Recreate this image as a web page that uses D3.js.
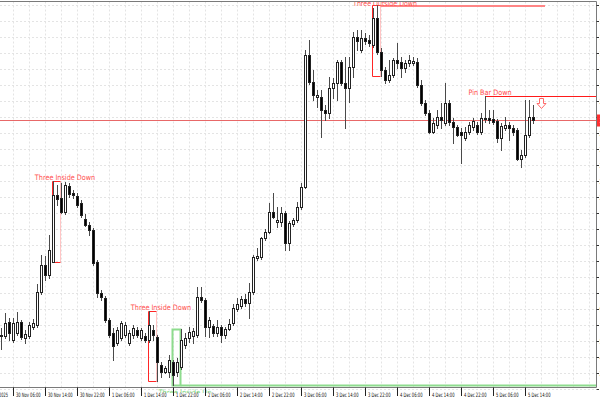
<!DOCTYPE html>
<html><head><meta charset="utf-8">
<script src="https://cdn.jsdelivr.net/npm/d3@7"></script>
<style>html,body{margin:0;padding:0;background:#fff;overflow:hidden}</style>
</head><body>
<svg id="c" width="600" height="400"></svg>
<script>
// Hourly bars (relative price units; the price axis labels are cut off in the source)
const opens = [64,64,78,60,67,78,62,64,73,75, 108,135,125,138,205,202,188,214,207,204, 197,181,175,170,138,107,102,80,67,57, 62,65,57,65,70,62,64,60,70,63, 35,28,28,38,28,33,55,62,64,65, 103,100,73,74,67,73,65,71,77,91, 94,101,97,108,142,143,162,168,188,178, 178,187,157,176,180,193,213,345,318,303, 303,290,287,312,317,338,317,312,333,363, 350,362,360,355,382,348,330,320,325,340, 338,332,337,337,338,315,297,287,268,275, 283,277,297,278,273,268,262,268,273,275, 268,282,282,281,279,262,272,275,272,270, 241,245,265,283];
const highs = [72,87,82,82,88,80,70,78,81,116, 145,144,165,219,215,217,218,217,210,207, 200,186,178,172,140,110,104,82,72,73, 79,78,70,75,73,72,67,89,75,65, 38,34,45,40,42,71,67,73,72,113, 113,102,83,76,80,75,73,81,96,102, 104,106,117,145,152,163,171,197,207,193, 193,189,179,182,198,217,350,360,330,310, 310,295,323,322,340,340,343,343,368,370, 370,367,365,392,395,352,333,340,342,357, 343,340,345,343,342,320,300,290,282,290, 297,317,300,282,275,272,273,278,282,278, 287,304,290,290,281,277,283,278,275,272, 250,300,300,295];
const lows = [51,62,60,58,65,61,57,62,71,73, 106,120,122,138,195,187,186,203,202,193, 183,174,165,135,103,100,78,63,40,55, 60,63,55,62,63,60,58,58,60,19, 23,27,23,15,24,31,52,58,57,63, 98,64,63,64,64,58,62,70,75,89, 92,94,82,106,140,141,160,167,182,173, 174,150,150,174,178,191,212,316,300,293, 263,280,282,302,300,315,272,298,323,350, 348,356,354,353,346,324,317,318,323,332, 323,328,334,335,313,295,285,267,267,272, 272,275,275,257,264,237,260,266,270,266, 266,278,277,276,258,250,270,260,265,240, 233,243,263,277];
const closes = [65,77,67,77,78,63,66,75,77,108, 135,125,150,205,201,188,215,206,205,195, 185,175,170,137,107,103,80,65,54,70, 77,75,67,72,65,70,60,75,65,38, 28,32,40,25,38,60,62,68,69,103, 100,73,80,67,73,65,71,76,92,96, 101,97,108,143,144,162,168,188,183,180, 187,157,177,180,193,213,345,318,305,305, 290,287,312,317,338,317,312,333,363,359, 362,359,357,382,348,330,320,325,340,337, 332,337,340,339,315,297,287,268,277,283, 280,297,278,273,265,265,268,275,279,268, 282,281,280,278,262,274,275,272,268,241, 245,265,283,280];

const timeLabelBars = [3,11,19,27,35,43,51,59,67,75,83,91,99,107,115,123,131];
const timeLabels = ["30 Nov 06:00","30 Nov 14:00","30 Nov 22:00","1 Dec 06:00","1 Dec 14:00","1 Dec 22:00","2 Dec 06:00","2 Dec 14:00","2 Dec 22:00","3 Dec 06:00","3 Dec 14:00","3 Dec 22:00","4 Dec 06:00","4 Dec 14:00","4 Dec 22:00","5 Dec 06:00","5 Dec 14:00"];
const firstDateLabel = "30 Nov 2025";
const priceTicks = [395,379,363,347,331,315,299,283,267,251,235,219,203,187,171,155,139,123,107,91,75,59,43,27,11];

const patternNames = ["Three Inside Down","Three Inside Down","Three Inside Up","Three Outside Down"];
const patternStart = [13,37,43,93];
const patternEnd = [15,39,45,95];
const patternDir = ["down","down","up","down"];
const patternLineTo = [null,null,149,136];
const pinBarName = "Pin Bar Down";
const pinBarIndex = 121;
const arrowBar = 135;

const svg = d3.select("#c");
const plotRight = 596.5, plotTop = 1.5, plotBottom = 387.5;
const x = d3.scaleLinear().domain([0, 148.75]).range([1, 596]);
const y = d3.scaleLinear().domain([0, 400]).range([400, 0]);
const px = i => Math.round(x(i));
const py = v => Math.round(y(v));

svg.append("rect").attr("width",600).attr("height",400).attr("fill","#fff");

svg.append("defs").append("clipPath").attr("id","plot")
  .append("rect").attr("x",0).attr("y",1).attr("width",596).attr("height",392);

const g = svg.append("g").attr("clip-path","url(#plot)");

// grid
const vg = d3.range(3, 149, 4);
g.selectAll("line.vg").data(vg).join("line").attr("class","vg")
  .attr("x1",d=>px(d)+0.5).attr("x2",d=>px(d)+0.5).attr("y1",plotTop).attr("y2",plotBottom)
  .attr("stroke","#e4e4e4").attr("stroke-dasharray","2,2");
g.selectAll("line.hg").data(priceTicks).join("line").attr("class","hg")
  .attr("x1",0).attr("x2",plotRight).attr("y1",d=>py(d)+0.5).attr("y2",d=>py(d)+0.5)
  .attr("stroke","#e4e4e4").attr("stroke-dasharray","2,2");

// current price line
const last = closes[closes.length-1];
g.append("line").attr("x1",0).attr("x2",plotRight).attr("y1",py(last)+0.5).attr("y2",py(last)+0.5)
  .attr("stroke","#e86868").attr("stroke-width",1);

// pattern boxes
const boxes = patternNames.map((n,k)=>{
  const s = patternStart[k], e = patternEnd[k];
  const hi = d3.max(highs.slice(s,e+1)), lo = d3.min(lows.slice(s,e+1));
  return {n, s, e, dir:patternDir[k], lineTo:patternLineTo[k],
    x0: px(s)-0.5, x1: px(e)-0.5, y0: py(hi)+0.5, y1: py(lo)+0.5};
});
boxes.forEach(b=>{
  if (b.dir==="up") {
    g.append("rect").attr("x",b.x0).attr("y",b.y0).attr("width",b.x1-b.x0).attr("height",b.y1-b.y0)
      .attr("fill","none").attr("stroke","#8edc8e").attr("stroke-width",2);
  } else {
    const c = "#ff2626";
    g.append("path").attr("d",`M${b.x1},${b.y0}H${b.x0}V${b.y1}H${b.x1}`)
      .attr("fill","none").attr("stroke",c).attr("stroke-width",1);
    g.append("line").attr("x1",b.x1).attr("x2",b.x1).attr("y1",b.y0).attr("y2",b.y1)
      .attr("stroke","#ff8a8a").attr("stroke-dasharray","1,1");
  }
});

// candles
const idx = d3.range(opens.length);
const cg = g.append("g");
cg.selectAll("line.w").data(idx).join("line").attr("class","w")
  .attr("x1",i=>px(i)+0.5).attr("x2",i=>px(i)+0.5)
  .attr("y1",i=>py(highs[i])).attr("y2",i=>py(lows[i])+1)
  .attr("stroke","#4a4a4a").attr("stroke-width",1);
cg.selectAll("rect.b").data(idx).join("rect").attr("class","b")
  .attr("x",i=>px(i)-0.5).attr("width",2)
  .attr("y",i=>py(Math.max(opens[i],closes[i]))+0.5)
  .attr("height",i=>Math.max(py(Math.min(opens[i],closes[i]))-py(Math.max(opens[i],closes[i])),0.01))
  .attr("fill",i=>closes[i]>=opens[i]?"#fff":"#000")
  .attr("stroke","#222").attr("stroke-width",1);

// pattern lines and labels
const lab = {"font-family":"DejaVu Sans, sans-serif","font-size":"7.5px"};
boxes.forEach(b=>{
  const col = b.dir==="up" ? "#7fd67f" : "#ff5050";
  if (b.lineTo!==null) {
    const ly = b.dir==="up" ? b.y1 : b.y0+0.5;
    g.append("line").attr("x1",b.x1).attr("x2",Math.min(x(b.lineTo),plotRight)).attr("y1",ly).attr("y2",ly)
      .attr("stroke",b.dir==="up"?"#8edc8e":"#ff8585").attr("stroke-width",2);
  }
  const ty = b.dir==="up" ? b.y1+9 : Math.max(b.y0-2, 6);
  const t = g.append("text").attr("x",x(b.e+1)).attr("y",ty).attr("text-anchor","middle")
    .attr("fill",col).text(b.n)
    .attr("textLength", b.n.length*3.55).attr("lengthAdjust","spacingAndGlyphs");
  Object.entries(lab).forEach(([k,v])=>t.attr(k,v));
});

// pin bar
const pinY = py(highs[pinBarIndex])+0.5;
g.append("line").attr("x1",px(pinBarIndex)+1).attr("x2",plotRight).attr("y1",pinY).attr("y2",pinY)
  .attr("stroke","#ff1a1a").attr("stroke-width",1.2);
const pt = g.append("text").attr("x",x(pinBarIndex+1)+1).attr("y",pinY-1.5).attr("text-anchor","middle")
  .attr("fill","#ff4a4a").text(pinBarName)
  .attr("textLength",pinBarName.length*3.6).attr("lengthAdjust","spacingAndGlyphs");
Object.entries(lab).forEach(([k,v])=>pt.attr(k,v));
const ax = px(arrowBar)+0.5, ay = pinY+2;
g.append("path").attr("d",`M${ax-2},${ay}H${ax+2}V${ay+5}H${ax+4.5}L${ax},${ay+10}L${ax-4.5},${ay+5}H${ax-2}Z`)
  .attr("fill","#fff").attr("stroke","#ff6a6a").attr("stroke-width",1);

// frame
svg.append("path").attr("d",`M0,${plotTop}H${plotRight}V${plotBottom}H0`)
  .attr("fill","none").attr("stroke","#7a7a7a").attr("stroke-width",1);

// price axis (labels mostly outside the view, as in the source)
svg.selectAll("line.pt").data(priceTicks).join("line").attr("class","pt")
  .attr("x1",plotRight).attr("x2",599).attr("y1",d=>py(d)+0.5).attr("y2",d=>py(d)+0.5)
  .attr("stroke","#333");
svg.selectAll("text.pl").data(priceTicks.filter(d=>Math.abs(py(d)-py(last))>9)).join("text").attr("class","pl")
  .attr("x",599.5).attr("y",d=>py(d)+3).attr("font-family","DejaVu Sans, sans-serif")
  .attr("font-size","7px").attr("fill","#222").text(d=>d3.format(".2f")(d));
svg.append("rect").attr("x",597).attr("y",py(last)-5.5).attr("width",40).attr("height",12).attr("fill","#ff3030");
svg.append("text").attr("x",599.5).attr("y",py(last)+3).attr("font-family","DejaVu Sans, sans-serif")
  .attr("font-size","7px").attr("fill","#fff").text(d3.format(".2f")(last));

// time axis
const ta = svg.append("g");
ta.selectAll("line").data(timeLabelBars).join("line")
  .attr("x1",d=>px(d)+0.5).attr("x2",d=>px(d)+0.5).attr("y1",plotBottom).attr("y2",396)
  .attr("stroke","#222");
ta.selectAll("text.tl").data(timeLabels).join("text").attr("class","tl")
  .attr("x",(d,k)=>px(timeLabelBars[k])+3).attr("y",397)
  .attr("font-family","DejaVu Sans, sans-serif").attr("font-size","6px").attr("fill","#111")
  .attr("textLength",d=>d.length*2.05).attr("lengthAdjust","spacingAndGlyphs").text(d=>d);
ta.append("text").attr("x",8).attr("y",397).attr("text-anchor","end")
  .attr("font-family","DejaVu Sans, sans-serif").attr("font-size","6px").attr("fill","#111")
  .attr("textLength",firstDateLabel.length*2.05).attr("lengthAdjust","spacingAndGlyphs").text(firstDateLabel);
</script>
</body></html>
